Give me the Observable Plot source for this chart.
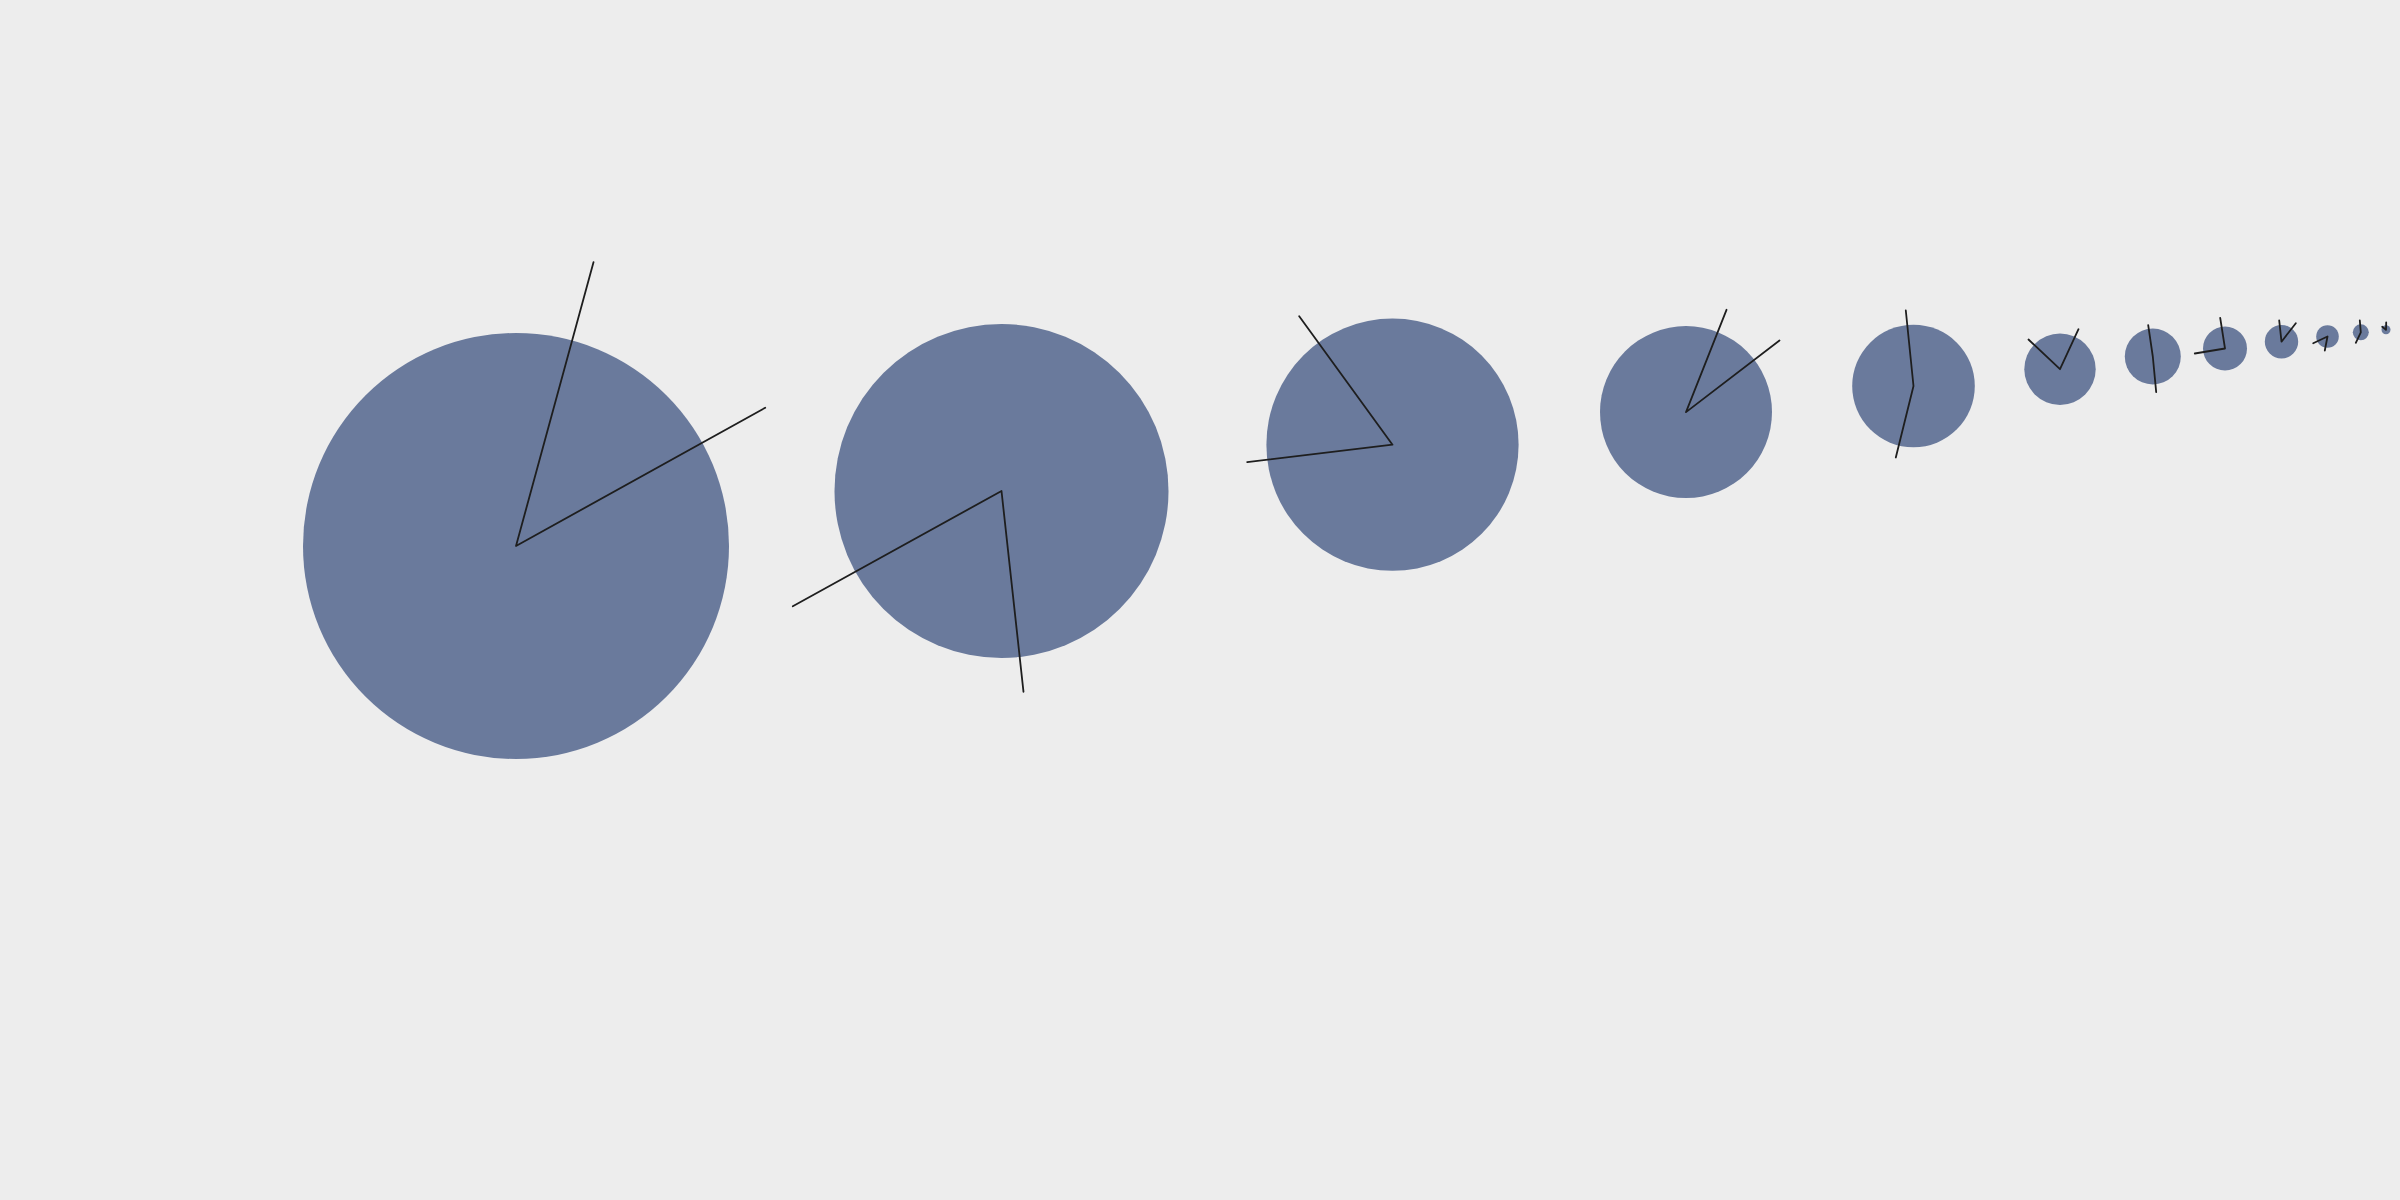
<!DOCTYPE html>
<html>
<head>
<meta charset="utf-8">
<script src="https://cdn.jsdelivr.net/npm/d3@7"></script>
<script src="https://cdn.jsdelivr.net/npm/@observablehq/plot@0.6"></script>
<style>
  html, body { margin: 0; padding: 0; background: #ededed; }
  #chart svg { display: block; }
</style>
</head>
<body>
<div id="chart"></div>
<script>
// Circle centres (also the joint of the two hands) and radii
const centerX = [515.5, 1001, 1392, 1685.5, 1913, 2059.5, 2152.3, 2224.5, 2281, 2327, 2360.3, 2385.5];
const centerY = [545.5, 490.5, 444.2, 411.6, 385.5, 368.7, 356, 348, 341.2, 336, 331.8, 329.3];
const radius  = [213, 167, 126.1, 86, 61.3, 35.7, 28, 22, 16.7, 11.3, 8, 4.5];

// First hand end points
const handAX = [593, 792.3, 1298.7, 1726, 1905.3, 2028, 2147.7, 2219.7, 2278.7, 2312.7, 2359.3, 2385.7];
const handAY = [261.7, 605.7, 315.7, 309.3, 310, 339, 324.7, 317.3, 320, 342.7, 320, 322];

// Second hand end points
const handBX = [764.7, 1023, 1246.7, 1779, 1895.3, 2078, 2155.7, 2194.3, 2295.3, 2324.3, 2355.3, 2381.7];
const handBY = [407.3, 691.3, 461.7, 340, 457, 328.7, 391.7, 353, 322.7, 350, 342.3, 326.3];

const circles = centerX.map((x, i) => ({id: i, x, y: centerY[i], r: radius[i]}));
const hands = centerX.flatMap((x, i) => [
  {id: i, x: handAX[i], y: handAY[i]},
  {id: i, x, y: centerY[i]},
  {id: i, x: handBX[i], y: handBY[i]}
]);

const chart = Plot.plot({
  width: 2400,
  height: 1200,
  margin: 0,
  style: {background: "transparent"},
  x: {domain: [0, 2400], range: [0, 2400], axis: null},
  y: {domain: [0, 1200], range: [0, 1200], axis: null},
  r: {type: "linear", domain: [0, 213], range: [0, 213]},
  marks: [
    Plot.dot(circles, {x: "x", y: "y", r: "r", fill: "#6a7a9c", stroke: "none"}),
    Plot.line(hands, {x: "x", y: "y", z: "id", stroke: "#1e1e1e", strokeWidth: 1.8, curve: "linear"})
  ]
});
document.getElementById("chart").appendChild(chart);
</script>
</body>
</html>
